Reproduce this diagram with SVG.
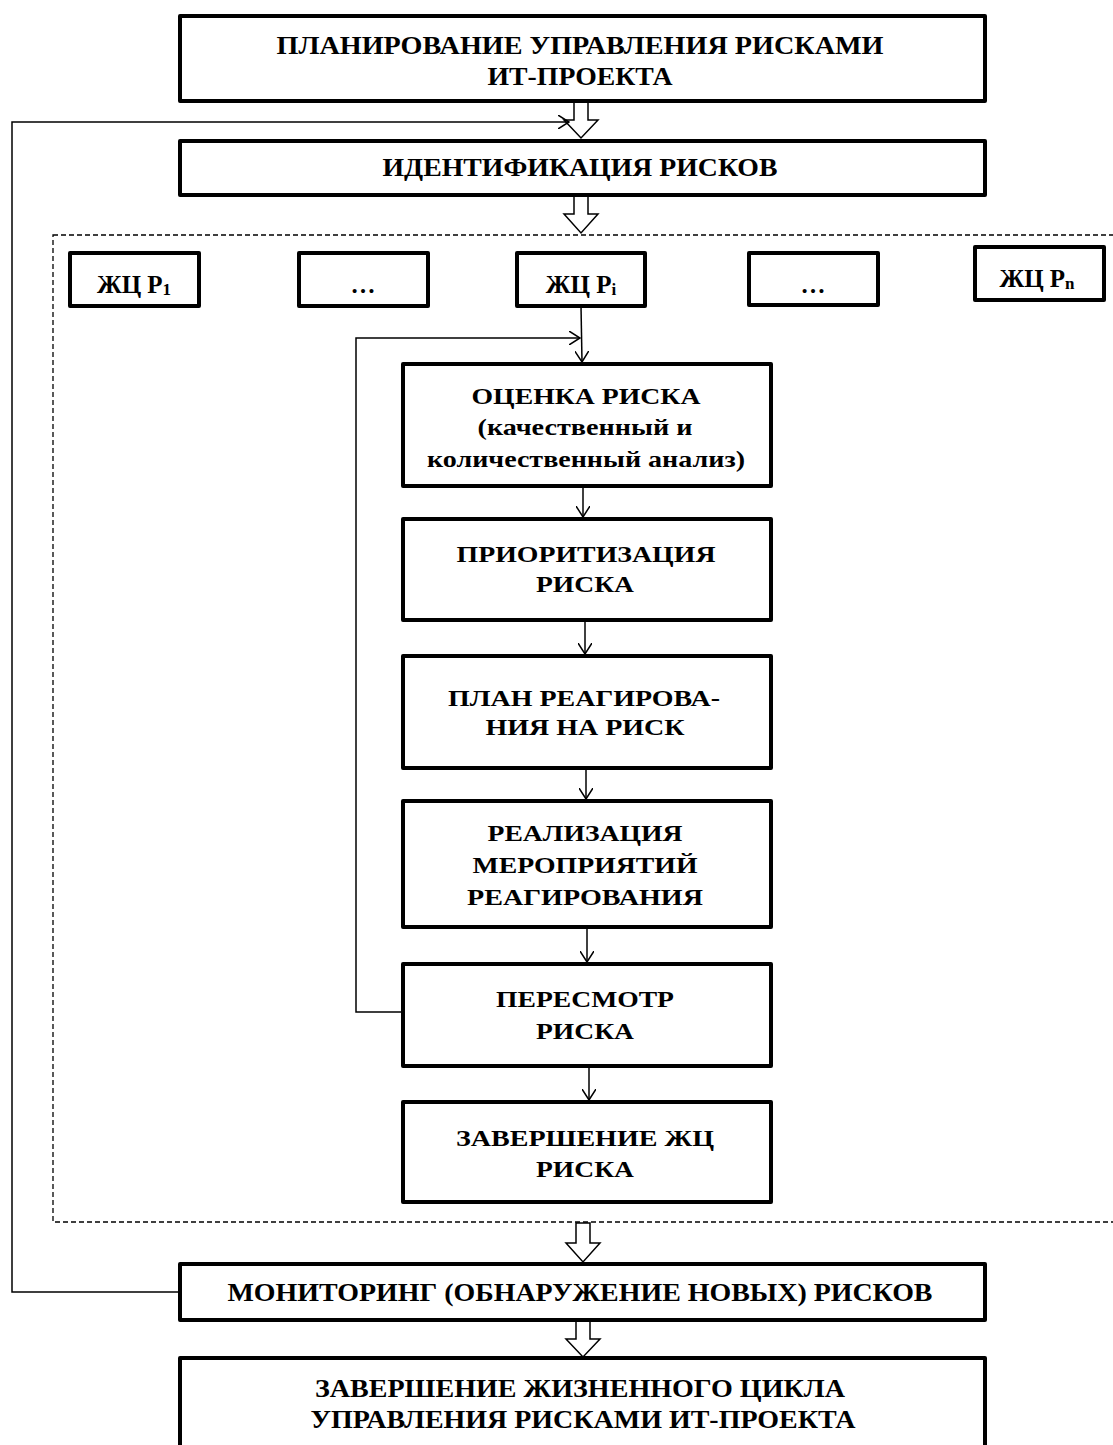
<svg xmlns="http://www.w3.org/2000/svg" width="1113" height="1445" viewBox="0 0 1113 1445">
<defs>
<style>
.box{fill:#fff;stroke:#000;stroke-width:4;stroke-linejoin:round}
.t{font-family:"Liberation Serif","Times New Roman",serif;font-weight:bold;fill:#000;text-anchor:middle}
.big{font-size:26px}
.in{font-size:24px}
.sm{font-size:25px}
.ln{fill:none;stroke:#000;stroke-width:1.5}
.hol{fill:#fff;stroke:#000;stroke-width:1.5;stroke-linejoin:miter}
.dash{fill:none;stroke:#000;stroke-width:1.3;stroke-dasharray:5,3}
</style>
<marker id="ah" viewBox="0 0 12 14" refX="11" refY="7" markerWidth="12" markerHeight="14" markerUnits="userSpaceOnUse" orient="auto">
<path d="M0,0 L11,7 L0,14" fill="none" stroke="#000" stroke-width="1.5"/>
</marker>
</defs>
<rect width="1113" height="1445" fill="#fff"/>

<rect class="dash" x="53" y="235" width="1070" height="987"/>

<g id="connectors">
<polygon class="hol" points="574,101 588,101 588,120 598,120 581,138 564,120 574,120"/>
<polygon class="hol" points="574,196 588,196 588,214 598,214 581,233 564,214 574,214"/>
<polygon class="hol" points="576,1223 590,1223 590,1243 600,1243 583,1262 566,1243 576,1243"/>
<polygon class="hol" points="576,1320 590,1320 590,1339 600,1339 583,1357 566,1339 576,1339"/>
<polyline class="ln" points="179,1292 12,1292 12,122 569,122" marker-end="url(#ah)"/>
<line class="ln" x1="581" y1="306" x2="582" y2="362" marker-end="url(#ah)"/>
<polyline class="ln" points="402,1012 356,1012 356,338 580,338" marker-end="url(#ah)"/>
<line class="ln" x1="583" y1="486" x2="583" y2="517" marker-end="url(#ah)"/>
<line class="ln" x1="585" y1="620" x2="585" y2="654" marker-end="url(#ah)"/>
<line class="ln" x1="586" y1="768" x2="586" y2="799" marker-end="url(#ah)"/>
<line class="ln" x1="587" y1="927" x2="587" y2="962" marker-end="url(#ah)"/>
<line class="ln" x1="589" y1="1066" x2="589" y2="1100" marker-end="url(#ah)"/>
</g>

<g id="n-plan">
<rect class="box" x="180" y="16" width="805" height="85"/>
<text class="t big" x="580" y="54" textLength="607" lengthAdjust="spacingAndGlyphs">ПЛАНИРОВАНИЕ УПРАВЛЕНИЯ РИСКАМИ</text>
<text class="t big" x="580" y="85" textLength="185" lengthAdjust="spacingAndGlyphs">ИТ-ПРОЕКТА</text>
</g>
<g id="n-ident">
<rect class="box" x="180" y="141" width="805" height="54"/>
<text class="t big" x="580" y="176" textLength="395" lengthAdjust="spacingAndGlyphs">ИДЕНТИФИКАЦИЯ РИСКОВ</text>
</g>

<g id="n-p1">
<rect class="box" x="70" y="253" width="129" height="53"/>
<text class="t sm" x="134" y="293">ЖЦ Р<tspan font-size="17" dy="2">1</tspan></text>
</g>
<g id="n-dots1">
<rect class="box" x="299" y="253" width="129" height="53"/>
<text class="t sm" x="363" y="293">…</text>
</g>
<g id="n-pi">
<rect class="box" x="517" y="253" width="128" height="53"/>
<text class="t sm" x="581" y="293">ЖЦ Р<tspan font-size="17" dy="2">i</tspan></text>
</g>
<g id="n-dots2">
<rect class="box" x="749" y="253" width="129" height="52"/>
<text class="t sm" x="813" y="293">…</text>
</g>
<g id="n-pn">
<rect class="box" x="975" y="247" width="129" height="53"/>
<text class="t sm" x="1037" y="287">ЖЦ Р<tspan font-size="17" dy="2">n</tspan></text>
</g>

<g id="n-ocenka">
<rect class="box" x="403" y="364" width="368" height="122"/>
<text class="t in" x="586" y="404" textLength="229" lengthAdjust="spacingAndGlyphs">ОЦЕНКА РИСКА</text>
<text class="t in" x="585" y="435" textLength="215" lengthAdjust="spacingAndGlyphs">(качественный и</text>
<text class="t in" x="586" y="467" textLength="318" lengthAdjust="spacingAndGlyphs">количественный анализ)</text>
</g>
<g id="n-prior">
<rect class="box" x="403" y="519" width="368" height="101"/>
<text class="t in" x="586" y="562" textLength="259" lengthAdjust="spacingAndGlyphs">ПРИОРИТИЗАЦИЯ</text>
<text class="t in" x="585" y="592" textLength="98" lengthAdjust="spacingAndGlyphs">РИСКА</text>
</g>
<g id="n-plan-reag">
<rect class="box" x="403" y="656" width="368" height="112"/>
<text class="t in" x="584" y="706" textLength="272" lengthAdjust="spacingAndGlyphs">ПЛАН РЕАГИРОВА-</text>
<text class="t in" x="585" y="735" textLength="199" lengthAdjust="spacingAndGlyphs">НИЯ НА РИСК</text>
</g>
<g id="n-real">
<rect class="box" x="403" y="801" width="368" height="126"/>
<text class="t in" x="585" y="841" textLength="195" lengthAdjust="spacingAndGlyphs">РЕАЛИЗАЦИЯ</text>
<text class="t in" x="585" y="873" textLength="225" lengthAdjust="spacingAndGlyphs">МЕРОПРИЯТИЙ</text>
<text class="t in" x="585" y="905" textLength="236" lengthAdjust="spacingAndGlyphs">РЕАГИРОВАНИЯ</text>
</g>
<g id="n-peresmotr">
<rect class="box" x="403" y="964" width="368" height="102"/>
<text class="t in" x="585" y="1007" textLength="178" lengthAdjust="spacingAndGlyphs">ПЕРЕСМОТР</text>
<text class="t in" x="585" y="1039" textLength="98" lengthAdjust="spacingAndGlyphs">РИСКА</text>
</g>
<g id="n-zaversh">
<rect class="box" x="403" y="1102" width="368" height="100"/>
<text class="t in" x="585" y="1146" textLength="258" lengthAdjust="spacingAndGlyphs">ЗАВЕРШЕНИЕ ЖЦ</text>
<text class="t in" x="585" y="1177" textLength="98" lengthAdjust="spacingAndGlyphs">РИСКА</text>
</g>

<g id="n-monitor">
<rect class="box" x="180" y="1264" width="805" height="56"/>
<text class="t big" x="580" y="1301" textLength="705" lengthAdjust="spacingAndGlyphs">МОНИТОРИНГ (ОБНАРУЖЕНИЕ НОВЫХ) РИСКОВ</text>
</g>
<g id="n-end">
<rect class="box" x="180" y="1358" width="805" height="100"/>
<text class="t big" x="580" y="1397" textLength="530" lengthAdjust="spacingAndGlyphs">ЗАВЕРШЕНИЕ ЖИЗНЕННОГО ЦИКЛА</text>
<text class="t big" x="583" y="1428" textLength="545" lengthAdjust="spacingAndGlyphs">УПРАВЛЕНИЯ РИСКАМИ ИТ-ПРОЕКТА</text>
</g>
</svg>
